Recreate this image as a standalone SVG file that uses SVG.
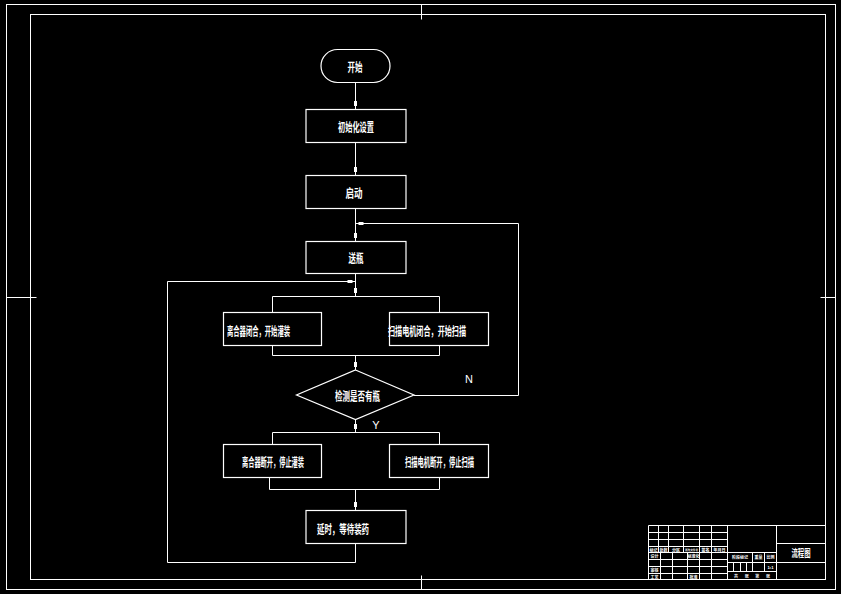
<svg xmlns="http://www.w3.org/2000/svg" width="841" height="594" viewBox="0 0 841 594">
<style>
.ln{fill:none;stroke:#fff;stroke-width:1}
.bx{fill:none;stroke:#fff;stroke-width:1.2}
.t{fill:#fff;font-family:"Noto Sans CJK SC","Noto Sans CJK JP",sans-serif;font-size:12px;font-weight:bold;text-anchor:middle;dominant-baseline:central}
.lt{fill:#fff;font-family:"Liberation Sans",sans-serif;font-size:11px;text-anchor:middle;dominant-baseline:central}
.s{fill:#fff;font-family:"Noto Sans CJK SC",sans-serif;font-size:4px;font-weight:bold;text-anchor:middle;dominant-baseline:central}
</style>
<defs>
<marker id="ah" markerUnits="userSpaceOnUse" markerWidth="12" markerHeight="6" viewBox="-9 -3 12 6" refX="0" refY="0" orient="auto">
<path d="M-8,-1.5 H-3 V1.5 H-8 Z" fill="#fff"/>
</marker>
</defs>
<rect width="841" height="594" fill="#000"/>
<g id="frame" class="ln">
<rect x="6.5" y="4.5" width="829" height="585"/>
<rect x="30.5" y="14.5" width="795" height="565"/>
<path d="M421.5,4.5 V19.5 M421.5,575.5 V589.5 M6.5,297.5 H36.5 M820.5,297.5 H835.5"/>
</g>
<g id="connectors" class="ln">
<path d="M355.5,82 V109" marker-end="url(#ah)"/>
<path d="M355.5,142 V175" marker-end="url(#ah)"/>
<path d="M355.5,208 V241" marker-end="url(#ah)"/>
<path d="M355.5,273 V296" marker-end="url(#ah)"/>
<path d="M272.5,296.5 H439.5 M272.5,296.5 V312 M439.5,296.5 V312"/>
<path d="M272.5,345 V355.5 M439.5,345 V355.5 M272.5,355.5 H439.5"/>
<path d="M355.5,355.5 V370" marker-end="url(#ah)"/>
<path d="M355.5,419 V432" marker-end="url(#ah)"/>
<path d="M272.5,432.5 H439.5 M272.5,432.5 V444 M439.5,432.5 V444"/>
<path d="M269.5,477 V489.5 M439.5,477 V489.5 M269.5,489.5 H439.5"/>
<path d="M355.5,489.5 V510" marker-end="url(#ah)"/>
<path d="M414,395.5 H518.5 V223.5 H355.5" marker-end="url(#ah)"/>
<path d="M355.5,543 V562.5 H167.5 V281.5 H355.5" marker-end="url(#ah)"/>
</g>
<g id="start">
<rect class="bx" x="321" y="49.5" width="69" height="33" rx="16.5"/>
<text class="t" x="355" y="66" textLength="15" lengthAdjust="spacingAndGlyphs">开始</text>
</g>
<g id="init">
<rect class="bx" x="306" y="109.5" width="100" height="33"/>
<text class="t" x="356" y="126" textLength="36" lengthAdjust="spacingAndGlyphs">初始化设置</text>
</g>
<g id="launch">
<rect class="bx" x="306" y="175.5" width="100" height="33"/>
<text class="t" x="354" y="192" textLength="17" lengthAdjust="spacingAndGlyphs">启动</text>
</g>
<g id="feed">
<rect class="bx" x="306" y="241.5" width="100" height="32"/>
<text class="t" x="356" y="257" textLength="15" lengthAdjust="spacingAndGlyphs">送瓶</text>
</g>
<g id="clutchOn">
<rect class="bx" x="223.5" y="312.5" width="98" height="33"/>
<text class="t" x="258.5" y="330" textLength="63" lengthAdjust="spacingAndGlyphs">离合器闭合，开始灌装</text>
</g>
<g id="scanOn">
<rect class="bx" x="389.5" y="312.5" width="99" height="33"/>
<text class="t" x="427" y="330" textLength="78" lengthAdjust="spacingAndGlyphs">扫描电机闭合，开始扫描</text>
</g>
<g id="detect">
<path class="bx" d="M355.5,370 L414,395 L355.5,419.5 L296.5,395 Z"/>
<text class="t" x="357.5" y="395" textLength="45" lengthAdjust="spacingAndGlyphs">检测是否有瓶</text>
<text class="lt" x="469" y="379">N</text>
<text class="lt" x="376" y="425">Y</text>
</g>
<g id="clutchOff">
<rect class="bx" x="223.5" y="444.5" width="98" height="33"/>
<text class="t" x="273" y="461" textLength="62" lengthAdjust="spacingAndGlyphs">离合器断开，停止灌装</text>
</g>
<g id="scanOff">
<rect class="bx" x="389.5" y="444.5" width="99" height="33"/>
<text class="t" x="439.5" y="461" textLength="69" lengthAdjust="spacingAndGlyphs">扫描电机断开，停止扫描</text>
</g>
<g id="delay">
<rect class="bx" x="306" y="510.5" width="100" height="33"/>
<text class="t" x="343" y="528" textLength="52" lengthAdjust="spacingAndGlyphs">延时，等待装药</text>
</g>
<g id="titleblock">
<g class="ln">
<path d="M648.5,525.5 H825.5 M648.5,525.5 V580 M776.5,525.5 V580"/>
<path d="M648.5,532.5 H727.5 M648.5,539.5 H727.5 M648.5,546.5 H727.5 M648.5,552.5 H776.5 M648.5,559.5 H727.5 M648.5,566.5 H727.5 M648.5,573.5 H727.5"/>
<path d="M658.5,525.5 V552.5 M668.5,525.5 V552.5 M683.5,525.5 V552.5 M699.5,525.5 V580 M711.5,525.5 V580 M727.5,525.5 V580"/>
<path d="M660.5,552.5 V580 M672.5,552.5 V580 M687.5,552.5 V580"/>
<path d="M727.5,562.5 H776.5 M727.5,571.5 H776.5 M752.5,552.5 V571.5 M764.5,552.5 V571.5 M733.5,562.5 V571.5 M740.5,562.5 V571.5 M746.5,562.5 V571.5"/>
<path d="M776.5,543.5 H825.5 M776.5,562.5 H825.5"/>
</g>
<text class="s" x="653.5" y="549.5">标记</text>
<text class="s" x="663.5" y="549.5">处数</text>
<text class="s" x="676" y="549.5">分区</text>
<text class="s" x="691.5" y="549.5" style="font-size:2.6px">更改文件号</text>
<text class="s" x="705.5" y="549.5">签名</text>
<text class="s" x="719.5" y="549.5">年月日</text>
<text class="s" x="654.5" y="556">设计</text>
<text class="s" x="693.5" y="556">标准化</text>
<text class="s" x="654.5" y="569.5">审核</text>
<text class="s" x="654.5" y="576.5">工艺</text>
<text class="s" x="693.5" y="576.5">批准</text>
<text class="s" x="740" y="557">阶段标记</text>
<text class="s" x="758.5" y="557">重量</text>
<text class="s" x="770.5" y="557">比例</text>
<text class="s" x="770.5" y="567">1:1</text>
<text class="s" x="752" y="576" textLength="36" lengthAdjust="spacing">共 张 第 张</text>
<text class="t" x="801" y="552" style="font-size:10px" textLength="19" lengthAdjust="spacingAndGlyphs">流程图</text>
</g>
</svg>
